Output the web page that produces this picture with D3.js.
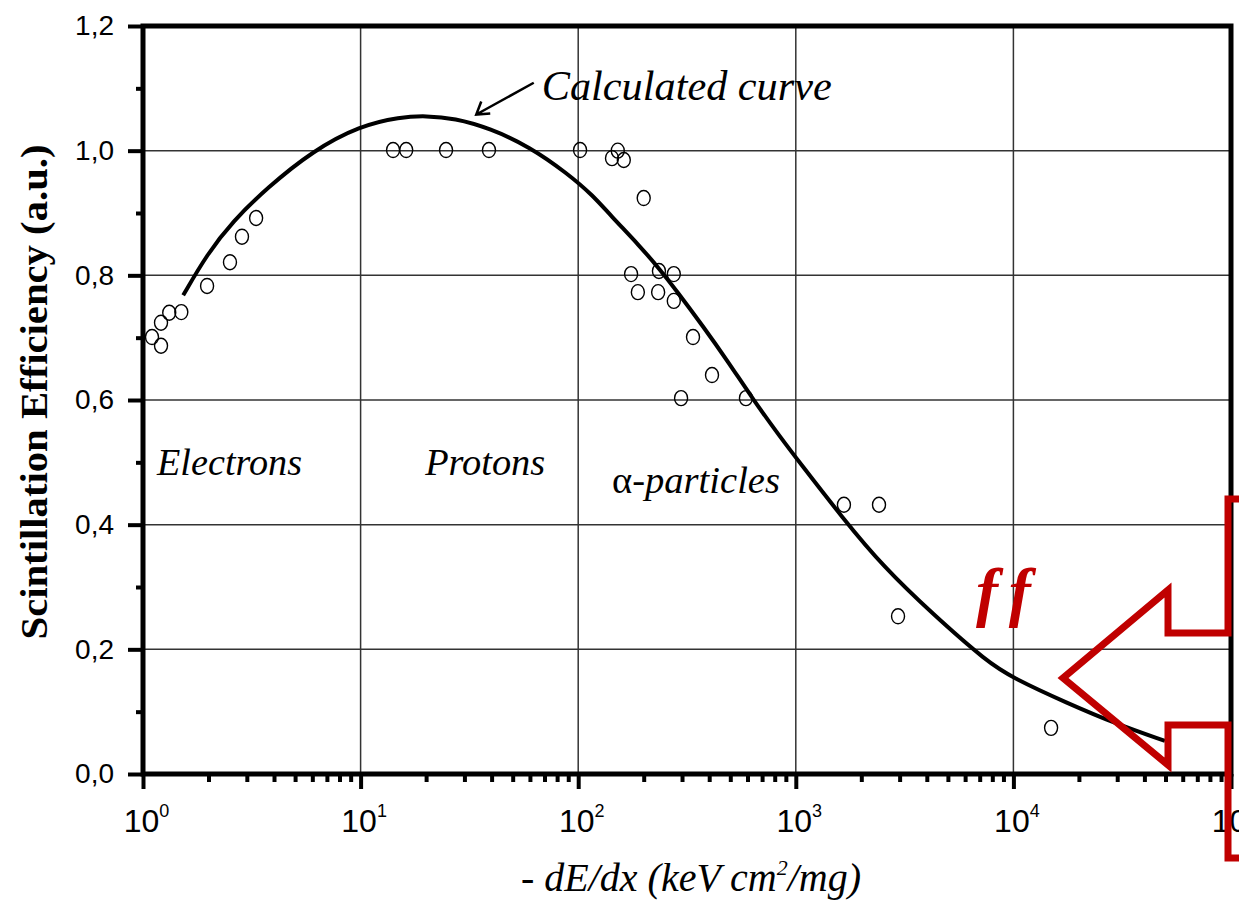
<!DOCTYPE html>
<html>
<head>
<meta charset="utf-8">
<script src="https://cdn.jsdelivr.net/npm/d3@7"></script>
<style>
body { margin: 0; background: #fff; }
.tick-label { font-family: "Liberation Sans", Arial, sans-serif; fill: #000; }
.note { font-family: "Liberation Serif", "Times New Roman", serif; font-style: italic; fill: #000; }
</style>
</head>
<body>
<script>
// measured scintillation efficiency (electrons, protons, alpha particles)
var measuredX = [1.10, 1.21, 1.21, 1.32, 1.50, 1.97, 2.51, 2.85, 3.31,
                 14.1, 16.2, 24.7, 38.9, 102,
                 143, 152, 162, 200, 175, 188, 233, 235, 275, 275, 337, 412, 297, 590,
                 1664, 2412, 2950, 14900];
var measuredY = [0.701, 0.724, 0.687, 0.740, 0.741, 0.783, 0.821, 0.862, 0.892,
                 1.001, 1.001, 1.001, 1.001, 1.001,
                 0.988, 1.000, 0.985, 0.924, 0.802, 0.773, 0.773, 0.807, 0.802, 0.759, 0.701, 0.640, 0.603, 0.603,
                 0.432, 0.432, 0.253, 0.074];

// calculated curve
var curveX = [1.53, 1.97, 2.59, 3.71, 6.04, 9.93, 15.2, 20.0, 27.0, 39.3, 60.0, 88.8, 117, 140,
              192, 238, 285, 375, 483, 636, 846, 1045, 1648, 2518, 4276, 7570, 9960, 17600, 29900, 49700];
var curveY = [0.768, 0.834, 0.887, 0.940, 1.000, 1.040, 1.054, 1.056, 1.052, 1.036, 1.006, 0.964, 0.928, 0.897,
              0.847, 0.809, 0.774, 0.718, 0.664, 0.601, 0.541, 0.499, 0.410, 0.333, 0.256, 0.180, 0.154, 0.114, 0.080, 0.053];

var yTicks = [0, 0.2, 0.4, 0.6, 0.8, 1.0, 1.2];
var yMinor = [0.1, 0.3, 0.5, 0.7, 0.9, 1.1];
var xExponents = [0, 1, 2, 3, 4, 5];

var W = 1239, H = 904;
var margin = {top: 26, right: 8, bottom: 130, left: 143},
    width = W - margin.left - margin.right,
    height = H - margin.top - margin.bottom;

var svg = d3.select("body").append("svg")
    .attr("width", W)
    .attr("height", H);

var g = svg.append("g")
    .attr("transform", "translate(" + margin.left + "," + margin.top + ")");

var x = d3.scaleLog().domain([1, 1e5]).range([0, width]);
var y = d3.scaleLinear().domain([0, 1.2]).range([height, 0]);

var xMinor = [];
xExponents.slice(0, -1).forEach(function(e) {
    for (var k = 2; k <= 9; k++) xMinor.push(k * Math.pow(10, e));
});

// grid
g.append("g").selectAll("line")
    .data(xExponents.slice(1, -1))
    .enter().append("line")
    .attr("x1", function(d) { return x(Math.pow(10, d)); })
    .attr("x2", function(d) { return x(Math.pow(10, d)); })
    .attr("y1", 0).attr("y2", height)
    .attr("stroke", "#333").attr("stroke-width", 1.5);

g.append("g").selectAll("line")
    .data(yTicks.slice(1, -1))
    .enter().append("line")
    .attr("y1", function(d) { return y(d); })
    .attr("y2", function(d) { return y(d); })
    .attr("x1", 0).attr("x2", width)
    .attr("stroke", "#333").attr("stroke-width", 1.5);

// y axis
var yAxis = g.append("g")
    .call(d3.axisLeft(y).tickValues(yTicks).tickSize(15).tickPadding(14)
        .tickFormat(function(d) { return d3.format(".1f")(d).replace(".", ","); }));
yAxis.select(".domain").remove();
yAxis.selectAll("line").attr("stroke-width", 4);
yAxis.selectAll("text").attr("class", "tick-label").style("font-size", "28px");

var yAxisMinor = g.append("g")
    .call(d3.axisLeft(y).tickValues(yMinor).tickSize(7).tickFormat(""));
yAxisMinor.select(".domain").remove();
yAxisMinor.selectAll("line").attr("stroke-width", 4);

// x axis
var xAxis = g.append("g")
    .attr("transform", "translate(0," + height + ")")
    .call(d3.axisBottom(x).tickValues(xExponents.map(function(e) { return Math.pow(10, e); }))
        .tickSize(15).tickFormat(""));
xAxis.select(".domain").remove();
xAxis.selectAll("line").attr("stroke-width", 4);

xAxis.selectAll(".tick").append("text")
    .data(xExponents)
    .attr("class", "tick-label")
    .attr("y", 58)
    .attr("x", 3)
    .attr("text-anchor", "middle")
    .style("font-size", "32px")
    .each(function(d) {
        var t = d3.select(this);
        t.append("tspan").text("10");
        t.append("tspan").attr("dy", -15).style("font-size", "18px").text(d);
    });

var xAxisMinor = g.append("g")
    .attr("transform", "translate(0," + height + ")")
    .call(d3.axisBottom(x).tickValues(xMinor).tickSize(8).tickFormat(""));
xAxisMinor.select(".domain").remove();
xAxisMinor.selectAll("line").attr("stroke-width", 4);

// frame
g.append("rect")
    .attr("width", width).attr("height", height)
    .attr("fill", "none").attr("stroke", "#000").attr("stroke-width", 5);

// calculated curve
var line = d3.line()
    .x(function(d) { return x(d[0]); })
    .y(function(d) { return y(d[1]); })
    .curve(d3.curveBasis);

g.append("path")
    .datum(d3.zip(curveX, curveY))
    .attr("d", line)
    .attr("fill", "none")
    .attr("stroke", "#000")
    .attr("stroke-width", 4);

// measured points
g.append("g").selectAll("ellipse")
    .data(d3.zip(measuredX, measuredY))
    .enter().append("ellipse")
    .attr("cx", function(d) { return x(d[0]); })
    .attr("cy", function(d) { return y(d[1]); })
    .attr("rx", 6.5).attr("ry", 7.5)
    .attr("fill", "none")
    .attr("stroke", "#000")
    .attr("stroke-width", 1.4);

// region labels
function note(txt, xv, yv, size, len) {
    return g.append("text")
        .attr("class", "note")
        .attr("x", x(xv)).attr("y", y(yv))
        .style("font-size", size + "px")
        .attr("textLength", len)
        .attr("lengthAdjust", "spacingAndGlyphs")
        .text(txt);
}
note("Electrons", 1.16, 0.48, 38, 145);
note("Protons", 19.8, 0.48, 38, 120);
note("", 143, 0.451, 38, 168)
    .call(function(t) {
        t.append("tspan").style("font-style", "normal").text("\u03b1");
        t.append("tspan").text("-particles");
    });
note("Calculated curve", 68, 1.082, 42, 290);

// arrow to the curve
var ax0 = x(68) - 8, ay0 = y(1.109), ax1 = x(34), ay1 = y(1.058);
g.append("path")
    .attr("d", "M" + ax0 + "," + ay0 + "L" + ax1 + "," + ay1 +
        "M" + (ax1 + 5) + "," + (ay1 - 13) + "L" + ax1 + "," + ay1 + "L" + (ax1 + 14) + "," + (ay1 - 1))
    .attr("fill", "none").attr("stroke", "#000").attr("stroke-width", 2.5);

// x axis title
svg.append("text")
    .attr("class", "note")
    .attr("x", 521).attr("y", 891)
    .style("font-size", "40px")
    .attr("textLength", 340)
    .attr("lengthAdjust", "spacingAndGlyphs")
    .call(function(t) {
        t.append("tspan").text("- dE/dx (keV cm");
        t.append("tspan").attr("dy", -16).style("font-size", "22px").text("2");
        t.append("tspan").attr("dy", 16).text("/mg)");
    });

// y axis title
svg.append("text")
    .attr("transform", "translate(47,392) rotate(-90)")
    .attr("text-anchor", "middle")
    .style("font-family", "'Liberation Serif', 'Times New Roman', serif")
    .style("font-weight", "bold")
    .style("font-size", "38px")
    .attr("textLength", 495)
    .attr("lengthAdjust", "spacingAndGlyphs")
    .text("Scintillation Efficiency (a.u.)");

// red highlight overlay
var red = "#c00000";
svg.append("text")
    .attr("x", 976).attr("y", 614)
    .style("font-family", "'Liberation Serif', 'Times New Roman', serif")
    .style("font-weight", "bold").style("font-style", "italic")
    .style("font-size", "66px")
    .attr("letter-spacing", 12)
    .attr("fill", red)
    .text("ff");

var sx = margin.left + width - 3;
svg.append("path")
    .attr("d", "M1245,499 L" + sx + ",499 L" + sx + ",633 L1168,633 L1168,590 L1063,678 L1168,765 L1168,725 L" +
        sx + ",725 L" + sx + ",858 L1245,858")
    .attr("fill", "none")
    .attr("stroke", red)
    .attr("stroke-width", 7)
    .attr("stroke-linejoin", "miter");
</script>
</body>
</html>
